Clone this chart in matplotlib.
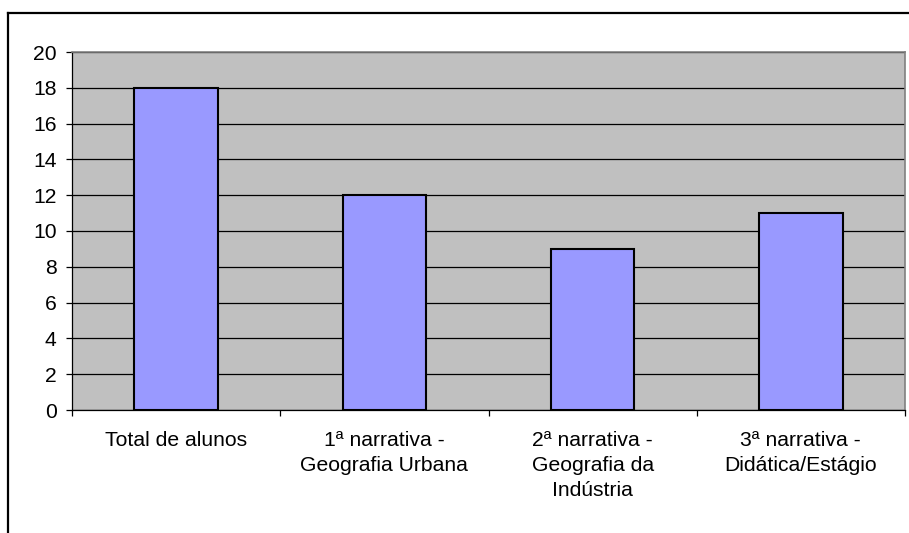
import matplotlib.pyplot as plt
from matplotlib.lines import Line2D

categories = [
    "Total de alunos",
    "1ª narrativa -\nGeografia Urbana",
    "2ª narrativa -\nGeografia da\nIndústria",
    "3ª narrativa -\nDidática/Estágio",
]
values = [18, 12, 9, 11]
yticks = list(range(0, 21, 2))

W, H = 909, 533
plt.rcParams["font.family"] = ["Liberation Sans", "DejaVu Sans"]

fig = plt.figure(figsize=(W / 100, H / 100), dpi=100)
ax = fig.add_axes([72 / W, (H - 410) / H, (905 - 72) / W, (410 - 52) / H])
ax.set_facecolor("#C0C0C0")

x = list(range(len(categories)))
ax.bar(x, values, width=0.4, color="#9999FF", edgecolor="black", linewidth=1.5, zorder=3)

ax.set_xlim(-0.5, len(categories) - 0.5)
ax.set_ylim(0, 20)
ax.set_yticks(yticks)
ax.yaxis.grid(True, color="black", linewidth=0.9, zorder=1)
ax.set_axisbelow(True)

# category boundaries get the tick marks, labels sit at centres
ax.set_xticks([i - 0.5 for i in range(len(categories) + 1)])
ax.set_xticklabels([])
ax.set_xticks(x, minor=True)
ax.set_xticklabels(categories, minor=True, fontsize=15.2, linespacing=1.42)
ax.tick_params(axis="x", which="minor", length=0, pad=15)
ax.tick_params(axis="x", which="major", length=4, width=0.9, direction="out")
ax.tick_params(axis="y", length=4, width=0.9, direction="out", labelsize=15.2, pad=7)

for s in ["left", "bottom"]:
    ax.spines[s].set_color("black")
    ax.spines[s].set_linewidth(0.9)
for s in ["top", "right"]:
    ax.spines[s].set_color("#808080")
    ax.spines[s].set_linewidth(1.2)

# outer chart frame (left and top edges visible)
fig.add_artist(Line2D([8 / W, 8 / W], [0, 1 - 13 / H], transform=fig.transFigure,
                      color="black", linewidth=1.6))
fig.add_artist(Line2D([8 / W, 1], [1 - 13 / H, 1 - 13 / H], transform=fig.transFigure,
                      color="black", linewidth=1.6))

fig.savefig("out.png", dpi=100)
